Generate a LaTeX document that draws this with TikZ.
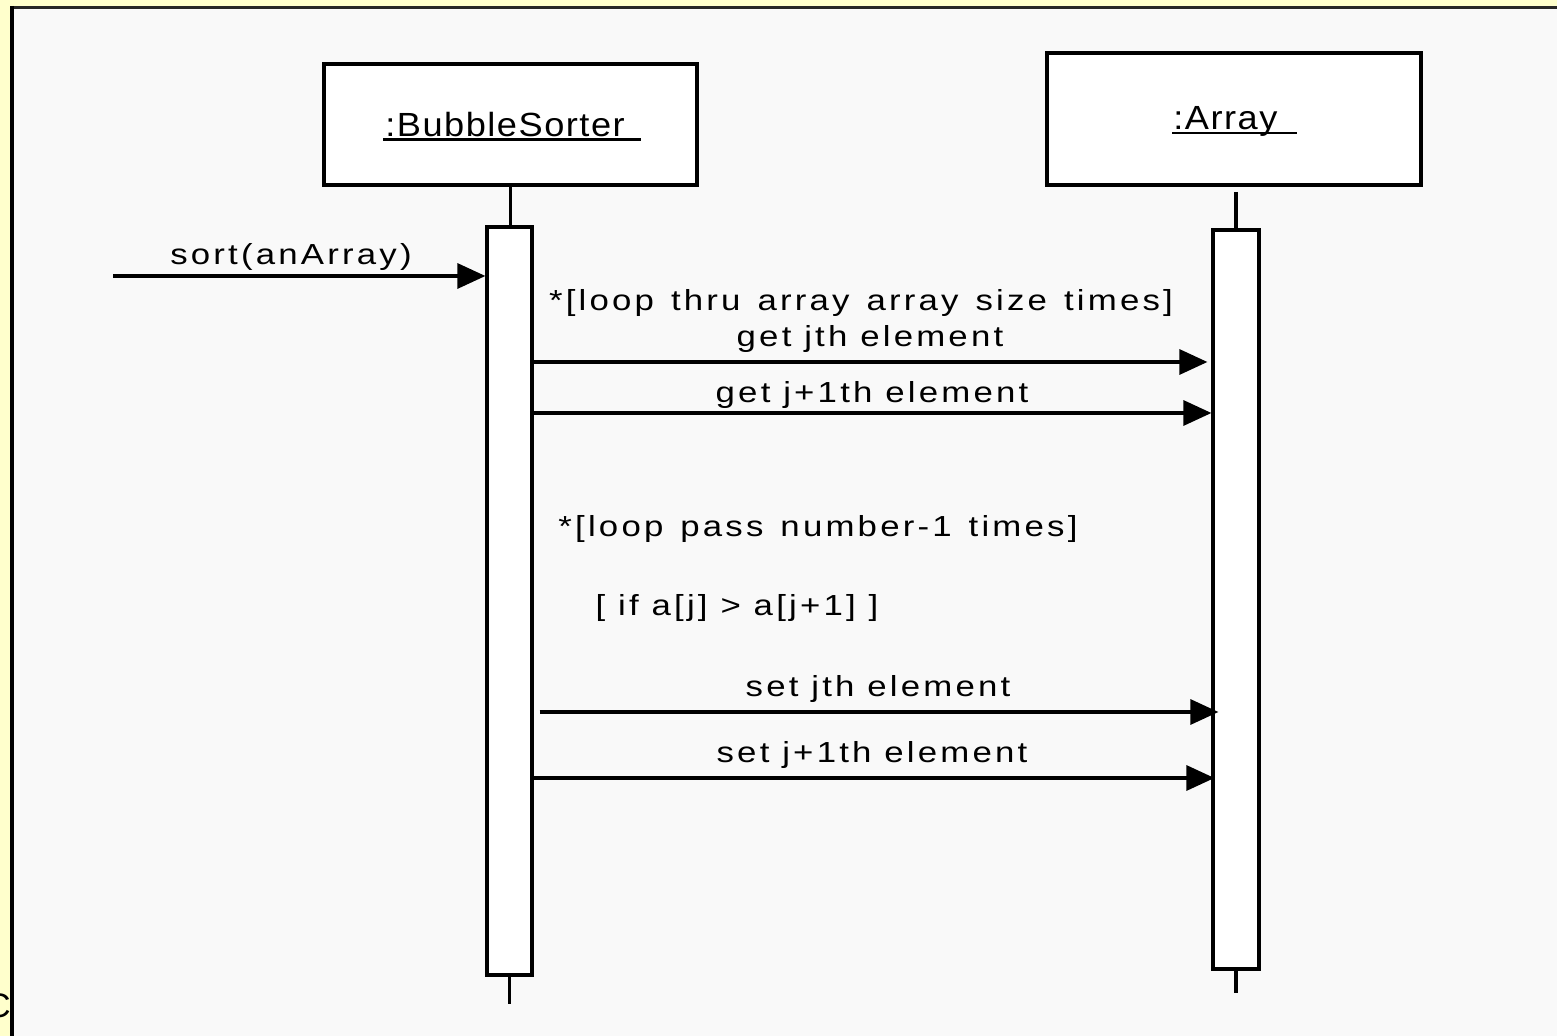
\documentclass[tikz,border=0pt]{standalone}
\usepackage{fontspec}
\setmainfont{Liberation Sans}
\newfontfamily\msgfont[FakeStretch=1.2,LetterSpace=11]{Liberation Sans}
\newfontfamily\objfont[FakeStretch=1.08,LetterSpace=4.5]{Liberation Sans}
\usetikzlibrary{arrows.meta}
\definecolor{pageyellow}{HTML}{FFFFCC}
\definecolor{panelgray}{HTML}{F9F9F9}
% wider gap between the words of a guard condition
\newcommand\guardsp{\hspace{8.5pt}}

\begin{document}
\begin{tikzpicture}[x=0.5pt,y=-0.5pt,
  objbox/.style={draw,line width=1.6pt,fill=white,inner sep=0pt},
  actbar/.style={draw,line width=1.6pt,fill=white,inner sep=0pt},
  lifeline/.style={line width=1.6pt},
  msg/.style={line width=1.6pt,-{Triangle[length=14pt,width=12.5pt]}},
  msglabel/.style={font=\msgfont\fontsize{14.5}{17}\selectfont,inner sep=0pt,anchor=base},
  objlabel/.style={font=\objfont\fontsize{16.75}{20}\selectfont,inner sep=0pt,anchor=base west},
  uline/.style={line width=1.4pt}]

\useasboundingbox (0,0) rectangle (1557,1036);

% page and panel
\fill[pageyellow] (0,0) rectangle (1557,1036);
\node[font=\rmfamily\fontsize{17}{20}\selectfont,inner sep=0pt,anchor=base east] (edgec) at (11,1017) {C};
\fill[panelgray] (12,8) rectangle (1557,1036);
\draw[line width=1.5pt,black!85] (10,7.5) -- (1557,7.5);
\draw[line width=2pt] (12,6) -- (12,1036);

% objects
\node[objbox,minimum width=186.5pt,minimum height=60.5pt] (bs) at (510.5,124.5) {};
\node[objbox,minimum width=187pt,minimum height=66pt] (arr) at (1234,119) {};
\node[objlabel] (bslbl) at (383,137) {\makebox[128.5pt][l]{\hspace{1pt}:BubbleSorter}};
\node[objlabel] (arrlbl) at (1172,130) {\makebox[62pt][l]{\hspace{0.5pt}:Array}};
\draw[uline] ([yshift=-1.25pt]bslbl.base west) -- ([yshift=-1.25pt]bslbl.base east);
\draw[uline] ([yshift=-1.5pt]arrlbl.base west) -- ([yshift=-1.5pt]arrlbl.base east);

% activation bars
\node[actbar,minimum width=22.5pt,minimum height=374pt] (bsact) at (509.5,601) {};
\node[actbar,minimum width=23pt,minimum height=369.5pt] (arract) at (1236,599.5) {};

% lifelines
\coordinate (bsend) at (509,1004);
\coordinate (arrtop) at (1236,192);
\coordinate (arrend) at (1236,993);
\draw[lifeline] (bs.south) -- (bs.south |- bsact.north);
\draw[lifeline] (bsact.south) -- (bsact.south |- bsend);
\draw[lifeline] (arrtop) -- (arrtop |- arract.north);
\draw[lifeline] (arract.south) -- (arract.south |- arrend);

% message levels
\coordinate (call) at (113,276);
\coordinate (m1) at (0,362);
\coordinate (m2) at (0,413);
\coordinate (m3) at (0,712);
\coordinate (m4) at (0,778);

% messages
\draw[msg] (call) -- (bsact.west |- call);
\draw[msg] (bsact.east |- m1) -- ([xshift=-2pt]arract.west |- m1);
\draw[msg] (bsact.east |- m2) -- (arract.west |- m2);
\draw[msg] ([xshift=3pt]bsact.east |- m3) -- ([xshift=3.5pt]arract.west |- m3);
\draw[msg] (bsact.east |- m4) -- ([xshift=1.5pt]arract.west |- m4);

% labels
\node[msglabel] (lsort) at (291,265) {sort(anArray)};
\node[msglabel] (lloop1) at (861,311) {*[loop\guardsp thru\guardsp array\guardsp array\guardsp size\guardsp times]};
\node[msglabel] (lget1) at (870,347) {get jth element};
\node[msglabel] (lget2) at (872,403) {get j+1th element};
\node[msglabel] (lloop2) at (818,537) {*[loop\guardsp pass\guardsp number-1\guardsp times]};
\node[msglabel] (lif) at (737,616) {[ if a[j] > a[j+1] ]};
\node[msglabel] (lset1) at (878,697) {set jth element};
\node[msglabel] (lset2) at (872,762) {set j+1th element};
\end{tikzpicture}
\end{document}
